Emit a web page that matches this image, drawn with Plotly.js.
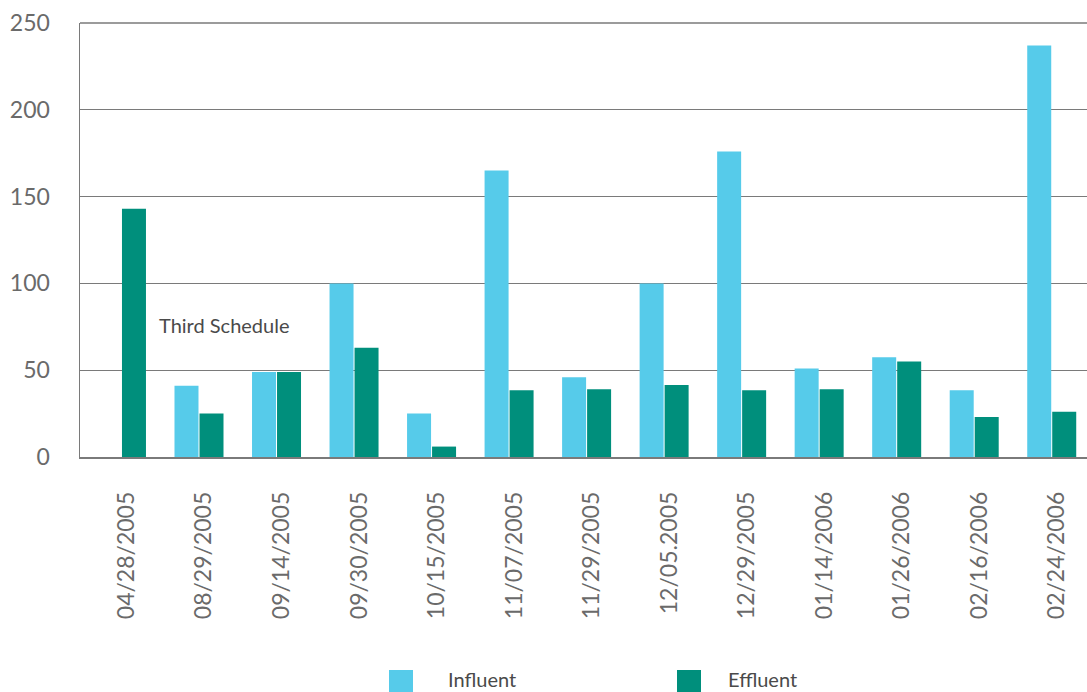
<!DOCTYPE html>
<html>
<head>
<meta charset="utf-8">
<script src="https://cdn.plot.ly/plotly-3.0.1.min.js"></script>
<style>html,body{margin:0;padding:0;background:#fff;overflow:hidden}#chart{width:1087px;height:692px}</style>
</head>
<body>
<div id="chart"></div>
<script>
const dates = ['04/28/2005','08/29/2005','09/14/2005','09/30/2005','10/15/2005','11/07/2005','11/29/2005','12/05.2005','12/29/2005','01/14/2006','01/26/2006','02/16/2006','02/24/2006'];
const influent = [null, 41, 49, 100, 25, 165, 46, 100, 176, 51, 57.5, 38.5, 237];
const effluent = [143, 25, 49, 63, 6, 38.5, 39, 41.5, 38.5, 39, 55, 23, 26];
const seriesNames = ['Influent', 'Effluent'];
const yTicks = [0, 50, 100, 150, 200, 250];

const colInf = '#56CBEA';
const colEff = '#008F7C';
const FONT = 'Lato, "Open Sans", sans-serif';

const W = 1087, H = 692, L = 80, R = 0, T = 23, B = 235;
const pw = W - L - R, ph = H - T - B;
const px = x => (x - L) / pw;
const py = y => (H - B - y) / ph;

const traces = [
  {type:'bar', name:seriesNames[0], x:dates, y:influent, marker:{color:colInf}, showlegend:false, hoverinfo:'none'},
  {type:'bar', name:seriesNames[1], x:dates, y:effluent, marker:{color:colEff}, showlegend:false, hoverinfo:'none'}
];

const layout = {
  width: W, height: H,
  margin: {l:L, r:R, t:T, b:B, pad:0},
  paper_bgcolor:'#fff', plot_bgcolor:'#fff',
  barmode:'group', bargap:0.355, bargroupgap:0.04,
  showlegend:false,
  font:{family:FONT, color:'#666'},
  xaxis:{
    type:'category', range:[-0.535, 12.455],
    tickangle:-90, tickfont:{family:FONT, size:23, color:'#6a6a6a'},
    showline:true, linecolor:'#7a7a7a', linewidth:1.5,
    showgrid:false, zeroline:false, ticks:'', ticklabelstandoff:24, ticklabelshift:5, fixedrange:true
  },
  yaxis:{
    range:[0, 250], tickvals:yTicks, ticktext:yTicks.map(String),
    tickfont:{family:FONT, size:23, color:'#6a6a6a'},
    showline:true, linecolor:'#7a7a7a', linewidth:1.5,
    showgrid:true, gridcolor:'#7a7a7a', gridwidth:1.3,
    zeroline:false, ticks:'', ticklabelstandoff:24, fixedrange:true
  },
  shapes:[
    {type:'line', xref:'paper', yref:'paper', x0:0, x1:1, y0:1, y1:1, line:{color:'#7a7a7a', width:1.5}},
    {type:'rect', xref:'paper', yref:'paper', x0:px(389), x1:px(413), y0:py(692), y1:py(670), fillcolor:colInf, line:{width:0}},
    {type:'rect', xref:'paper', yref:'paper', x0:px(677), x1:px(701), y0:py(692), y1:py(670), fillcolor:colEff, line:{width:0}}
  ],
  annotations:[
    {text:'Third Schedule', xref:'paper', yref:'y', x:px(157), y:76, xanchor:'left', yanchor:'middle', showarrow:false, font:{family:FONT, size:20, color:'#4a4a4a'}},
    {text:seriesNames[0], xref:'paper', yref:'paper', x:px(446), y:py(679), xanchor:'left', yanchor:'middle', showarrow:false, font:{family:FONT, size:20, color:'#4a4a4a'}},
    {text:seriesNames[1], xref:'paper', yref:'paper', x:px(726), y:py(679), xanchor:'left', yanchor:'middle', showarrow:false, font:{family:FONT, size:20, color:'#4a4a4a'}}
  ]
};

Plotly.newPlot('chart', traces, layout, {displayModeBar:false, staticPlot:true});
</script>
</body>
</html>
